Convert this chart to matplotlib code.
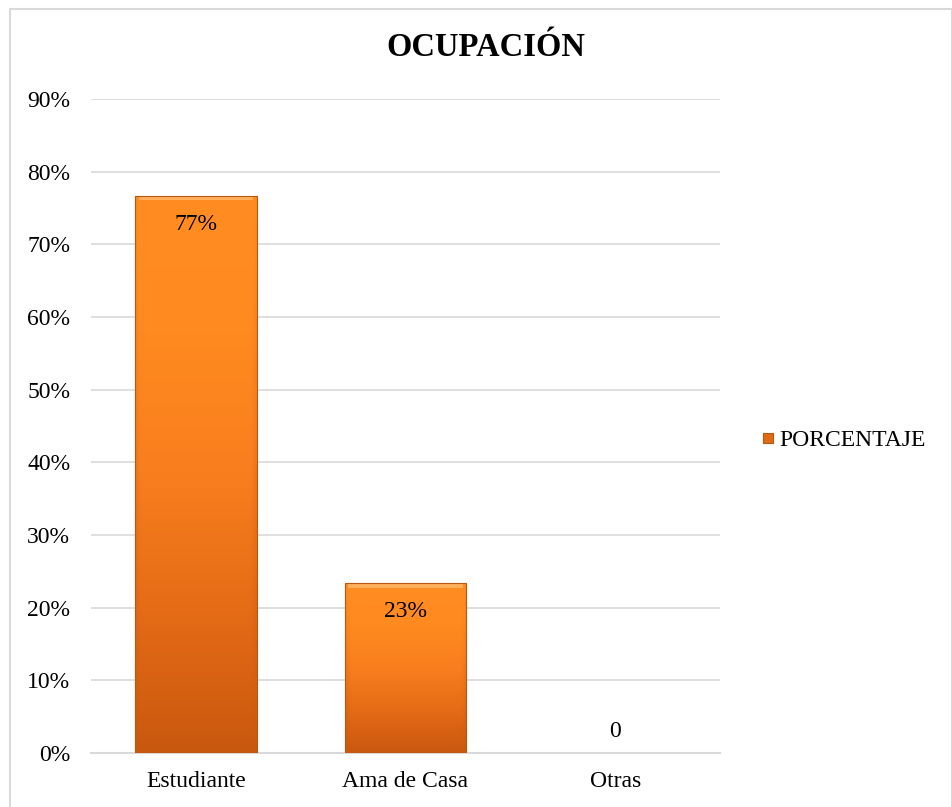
import numpy as np
import matplotlib
matplotlib.use("Agg")
import matplotlib.pyplot as plt
from matplotlib.colors import LinearSegmentedColormap
from matplotlib.patches import Rectangle
from matplotlib.ticker import FuncFormatter, MultipleLocator

categories = ["Estudiante", "Ama de Casa", "Otras"]
values = [0.7667, 0.2333, 0.0]
value_labels = ["77%", "23%", "0"]
series_name = "PORCENTAJE"
title = "OCUPACIÓN"

plt.rcParams["font.family"] = ["Liberation Serif", "DejaVu Serif"]
FS = 17

fig = plt.figure(figsize=(9.53, 8.07), dpi=100)
ax = fig.add_axes([91 / 953, 1 - 753 / 807, (720 - 91) / 953, (753 - 99) / 807])

# chart frame
fig.patches.append(Rectangle((10 / 953, -0.01), 942 / 953, 1 - 9 / 807 + 0.01,
                             transform=fig.transFigure, fill=False,
                             edgecolor="#d9d9d9", linewidth=1.5))

x = np.arange(len(categories))
width = 0.58
bars = ax.bar(x, values, width=width, color="none", edgecolor="none", zorder=3)

grad = LinearSegmentedColormap.from_list(
    "bar", ["#c9580f", "#e56b16", "#f97e1e", "#ff8a20", "#ff8c22"])
for rect, v in zip(bars, values):
    if v <= 0:
        continue
    x0, w = rect.get_x(), rect.get_width()
    # vertical shading plus a darker rim along the sides
    ny, nx = 200, 60
    yy = np.linspace(0, 1, ny)[:, None]
    xx = np.linspace(0, 1, nx)[None, :]
    rim = np.clip(np.minimum(xx, 1 - xx) / 0.04, 0, 1)
    img = yy * np.ones_like(xx)
    img = img * (0.75 + 0.25 * rim)
    im = ax.imshow(img, extent=(x0, x0 + w, 0, v), origin="lower",
                   cmap=grad, vmin=0, vmax=1, aspect="auto", zorder=3,
                   interpolation="bilinear")
    im.set_clip_path(rect)
    # light top bevel
    ax.add_patch(Rectangle((x0 + w * 0.03, v - 0.006), w * 0.94, 0.005,
                           facecolor="#ffae5c", edgecolor="none", zorder=4))
    ax.add_patch(Rectangle((x0, 0), w, v, facecolor="none",
                           edgecolor="#b8580f", linewidth=0.8, zorder=5))

for xi, v, lab in zip(x, values, value_labels):
    if v > 0.05:
        ax.text(xi, v - 0.039, lab, ha="center", va="center",
                fontsize=FS, color="black", zorder=6)
    else:
        ax.text(xi, v + 0.03, lab, ha="center", va="center",
                fontsize=FS, color="black", zorder=6)

ax.set_xlim(-0.5, 2.5)
ax.set_ylim(0, 0.9)
ax.yaxis.set_major_locator(MultipleLocator(0.1))
ax.yaxis.set_major_formatter(FuncFormatter(lambda v, p: f"{v * 100:.0f}%"))
ax.set_xticks(x)
ax.set_xticklabels(categories)
ax.tick_params(axis="both", length=0, labelsize=FS)
ax.tick_params(axis="y", pad=15)
ax.tick_params(axis="x", pad=13)
ax.grid(axis="y", color="#d9d9d9", linewidth=1.2, zorder=0)
ax.set_axisbelow(True)
for s in ["top", "right", "left"]:
    ax.spines[s].set_visible(False)
ax.spines["bottom"].set_color("#d9d9d9")
ax.spines["bottom"].set_linewidth(1.5)

fig.text(486 / 953, 1 - 48 / 807, title, ha="center", va="center",
         fontsize=23.5, fontweight="bold")

# legend
leg_ax = fig.add_axes([0, 0, 1, 1], facecolor="none")
leg_ax.set_axis_off()
leg_ax.set_xlim(0, 953)
leg_ax.set_ylim(807, 0)
leg_ax.add_patch(Rectangle((763, 433), 10, 10, facecolor="#e06a16",
                           edgecolor="#b8580f", linewidth=0.8))
leg_ax.text(779, 440, series_name, ha="left", va="center", fontsize=FS)

fig.savefig("out.png", dpi=100, facecolor="white")
